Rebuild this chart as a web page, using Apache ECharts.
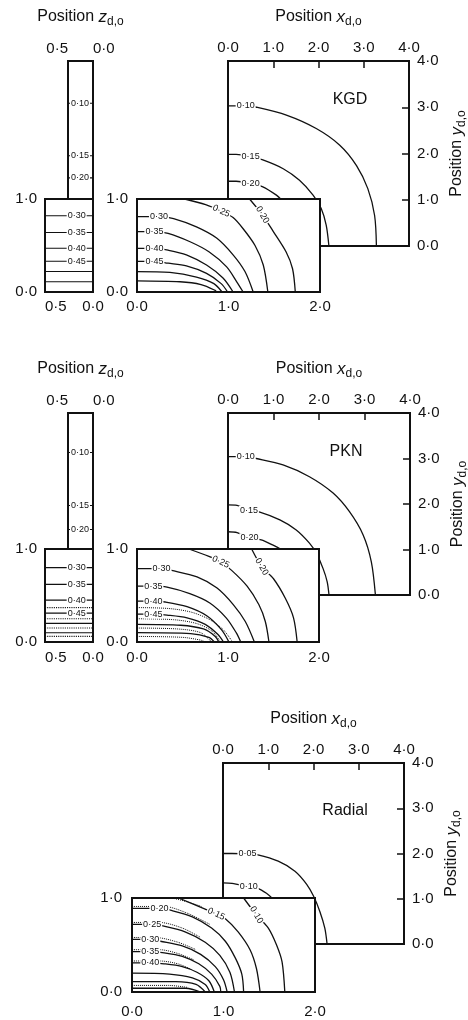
<!DOCTYPE html>
<html><head><meta charset="utf-8">
<script src="https://cdn.jsdelivr.net/npm/echarts@6/dist/echarts.min.js"></script>
<style>html,body{margin:0;padding:0;background:#fff}#c{width:468px;height:1020px}</style>
</head><body><div id="c"></div>
<script>
// ---------- tick labels ----------
const bigTickLabels = ['0·0','1·0','2·0','3·0','4·0'];
const insetXTickLabels = ['0·0','1·0','2·0'];
const unitTickLabels = ['0·0','1·0'];
const zTickLabels = ['0·0','0·5'];
const panelNames = ['KGD','PKN','Radial'];

// ---------- KGD (panel 1) ----------
const kgdBig10 = [[0,3.03],[0.39,3.03],[0.63,3.0],[1.29,2.83],[1.95,2.54],[2.47,2.18],[2.84,1.74],[3.09,1.24],[3.24,0.66],[3.28,0]];
const kgdBig15 = [[0,1.98],[0.18,1.98],[0.5,1.93],[0.77,1.86],[1.22,1.67],[1.58,1.42],[1.88,1.10],[2.06,0.81],[2.17,0.45],[2.23,0]];
const kgdBig20 = [[0,1.40],[0.18,1.40],[0.5,1.35],[0.77,1.28],[1.07,1.10],[1.18,1.0]];
const kgdIn20 = [[1.23,1.0],[1.37,0.83],[1.49,0.65],[1.63,0.43],[1.70,0.25],[1.73,0]];
const kgdIn25 = [[0.52,1.0],[0.75,0.94],[0.92,0.87],[1.05,0.80],[1.16,0.68],[1.29,0.50],[1.38,0.29],[1.43,0]];
const kgdIn30 = [[0,0.81],[0.24,0.81],[0.40,0.79],[0.65,0.70],[0.87,0.58],[1.05,0.40],[1.18,0.22],[1.27,0]];
const kgdIn35 = [[0,0.65],[0.19,0.65],[0.34,0.63],[0.58,0.54],[0.79,0.43],[0.98,0.27],[1.09,0.11],[1.16,0]];
const kgdIn40 = [[0,0.47],[0.19,0.47],[0.34,0.45],[0.54,0.40],[0.76,0.29],[0.94,0.15],[1.05,0]];
const kgdIn45 = [[0,0.33],[0.19,0.33],[0.34,0.31],[0.54,0.28],[0.76,0.20],[0.92,0.09],[0.99,0]];
const kgdIn50 = [[0,0.22],[0.36,0.21],[0.65,0.16],[0.84,0.09],[0.93,0]];
const kgdIn55 = [[0,0.12],[0.47,0.11],[0.70,0.08],[0.85,0.02],[0.87,0]];
const kgdZNarrowY = [3.08,1.94,1.46];
const kgdZNarrowLabels = ['0·10','0·15','0·20'];
const kgdZWideY = [0.82,0.64,0.47,0.33,0.22,0.11];
const kgdZWideLabels = ['0·30','0·35','0·40','0·45','',''];

// ---------- PKN (panel 2) ----------
const pknBig10 = [[0,3.04],[0.39,3.04],[0.62,3.0],[1.21,2.86],[1.79,2.6],[2.31,2.24],[2.67,1.83],[2.97,1.32],[3.15,0.73],[3.24,0]];
const pknBig15 = [[0,1.98],[0.2,1.97],[0.46,1.86],[0.70,1.82],[1.14,1.65],[1.50,1.43],[1.79,1.14],[1.94,0.92],[2.09,0.58],[2.18,0.29],[2.22,0]];
const pknBig20 = [[0,1.39],[0.2,1.37],[0.47,1.26],[0.73,1.21],[0.98,1.10],[1.17,1.0]];
const pknIn20 = [[1.26,1.0],[1.37,0.81],[1.50,0.68],[1.63,0.47],[1.72,0.26],[1.76,0]];
const pknIn25 = [[0.57,1.0],[0.79,0.92],[0.92,0.86],[1.04,0.77],[1.21,0.60],[1.34,0.40],[1.41,0.22],[1.45,0]];
const pknIn30 = [[0,0.79],[0.27,0.79],[0.38,0.77],[0.66,0.70],[0.88,0.58],[1.06,0.40],[1.19,0.22],[1.29,0]];
const pknIn35 = [[0,0.60],[0.18,0.60],[0.33,0.59],[0.58,0.52],[0.80,0.42],[0.98,0.26],[1.09,0.10],[1.14,0]];
const pknIn40 = [[0,0.44],[0.18,0.44],[0.31,0.43],[0.55,0.38],[0.77,0.28],[0.93,0.13],[1.01,0]];
const pknIn45 = [[0,0.30],[0.18,0.30],[0.33,0.29],[0.55,0.26],[0.75,0.19],[0.89,0.08],[0.95,0]];
const pknIn50 = [[0,0.19],[0.48,0.18],[0.73,0.14],[0.86,0.06],[0.90,0]];
const pknIn55 = [[0,0.10],[0.59,0.09],[0.79,0.05],[0.85,0]];
const pknDot1 = [[0,0.37],[0.35,0.36],[0.60,0.32],[0.80,0.24],[0.95,0.13],[1.05,0]];
const pknDot2 = [[0,0.25],[0.40,0.24],[0.65,0.20],[0.82,0.12],[0.92,0]];
const pknDot3 = [[0,0.15],[0.45,0.14],[0.70,0.10],[0.82,0]];
const pknDot4 = [[0,0.06],[0.50,0.05],[0.70,0.02],[0.75,0]];
const pknZNarrowY = [3.13,1.96,1.43];
const pknZNarrowLabels = ['0·10','0·15','0·20'];
const pknZWideY = [0.80,0.62,0.45,0.31,0.20,0.10];
const pknZWideLabels = ['0·30','0·35','0·40','0·45','',''];
const pknZWideDotY = [0.37,0.25,0.15,0.06];

// ---------- Radial (panel 3) ----------
const radBig05 = [[0,2.0],[0.2,2.0],[0.54,1.99],[0.77,1.97],[1.22,1.83],[1.59,1.61],[1.85,1.32],[2.0,1.06],[2.14,0.72],[2.25,0.35],[2.30,0]];
const radBig10 = [[0,1.35],[0.2,1.34],[0.57,1.26],[0.77,1.23],[0.96,1.12],[1.10,1.0]];
const radIn10 = [[1.22,1.0],[1.36,0.82],[1.49,0.68],[1.58,0.50],[1.64,0.32],[1.67,0]];
const radIn15 = [[0.51,1.0],[0.78,0.89],[0.92,0.83],[1.02,0.78],[1.16,0.64],[1.29,0.45],[1.36,0.25],[1.40,0]];
const radIn20 = [[0,0.89],[0.30,0.89],[0.42,0.87],[0.66,0.80],[0.87,0.68],[1.02,0.54],[1.13,0.36],[1.20,0.19],[1.22,0]];
const radIn25 = [[0,0.72],[0.22,0.72],[0.35,0.70],[0.58,0.64],[0.80,0.53],[0.96,0.39],[1.07,0.21],[1.12,0]];
const radIn30 = [[0,0.56],[0.20,0.56],[0.31,0.54],[0.55,0.49],[0.75,0.40],[0.91,0.27],[1.00,0.13],[1.04,0]];
const radIn35 = [[0,0.43],[0.20,0.43],[0.33,0.42],[0.55,0.38],[0.73,0.30],[0.87,0.19],[0.96,0.06],[0.97,0]];
const radIn40 = [[0,0.31],[0.20,0.31],[0.35,0.30],[0.55,0.27],[0.71,0.21],[0.84,0.12],[0.90,0]];
const radIn45 = [[0,0.20],[0.41,0.19],[0.66,0.15],[0.80,0.08],[0.85,0]];
const radIn50 = [[0,0.11],[0.48,0.11],[0.70,0.08],[0.80,0]];
const radIn55 = [[0,0.04],[0.59,0.04],[0.75,0]];
const radDot15 = [[0.44,1.0],[0.60,0.96],[0.76,0.91]];
const radDot20 = [[0,0.91],[0.35,0.91],[0.60,0.84],[0.85,0.72]];
const radDot25 = [[0,0.74],[0.30,0.74],[0.55,0.68],[0.75,0.58]];
const radDot30 = [[0,0.58],[0.25,0.58],[0.50,0.53],[0.70,0.45]];
const radDot35 = [[0,0.45],[0.30,0.45],[0.50,0.41],[0.68,0.34]];
const radDot40 = [[0,0.33],[0.30,0.33],[0.50,0.30],[0.65,0.24]];
const radDotLow = [[0,0.07],[0.40,0.07],[0.60,0.05]];

// z positions of the horizontal z-column lines (left edge, label, right edge)
const zNarrowZ = [0.5,0.26,0];
const zWideZ = [0.5,0.17,0];

// ---------- build ----------
const FONT = '"Liberation Sans", Arial, Helvetica, sans-serif';
const INK = '#111';

const gridDefs = [
  {left:228, top:61,  width:181, height:185, z:0}, // 0 KGD big
  {left:137, top:199, width:183, height:93,  z:5}, // 1 KGD inset
  {left:68,  top:61,  width:25,  height:138, z:3}, // 2 KGD z narrow
  {left:45,  top:199, width:48,  height:93,  z:5}, // 3 KGD z wide
  {left:228, top:413, width:182, height:182, z:0}, // 4 PKN big
  {left:137, top:549, width:182, height:93,  z:5}, // 5 PKN inset
  {left:68,  top:413, width:25,  height:136, z:3}, // 6 PKN z narrow
  {left:45,  top:549, width:48,  height:93,  z:5}, // 7 PKN z wide
  {left:223, top:763, width:181, height:181, z:0}, // 8 Radial big
  {left:132, top:898, width:183, height:94,  z:5}  // 9 Radial inset
];
const grids = gridDefs.map(g => Object.assign({show:true, backgroundColor:'#fff', borderColor:INK, borderWidth:2, containLabel:false, outerBoundsMode:'none'}, g));

function fmt(labels, step){ return v => { const i = Math.round(v/step); return labels[i] !== undefined ? labels[i] : ''; }; }
const labelStyle = {show:true, color:INK, fontSize:15, fontFamily:FONT};
const nameStyle = {color:INK, fontSize:16, fontFamily:FONT, lineHeight:22,
  rich:{ i:{fontStyle:'italic', fontSize:17, fontFamily:FONT, color:INK, lineHeight:22},
         s:{fontSize:12, fontFamily:FONT, color:INK, lineHeight:12, verticalAlign:'bottom'} }};

function ax(gi, z, o){ return Object.assign({gridIndex:gi, type:'value', z:z, axisLine:{show:false, onZero:false}, axisTick:{show:false}, splitLine:{show:false}, axisLabel:{show:false}}, o); }

const xAxes = [], yAxes = [];
function bigAxes(gi){
  const tick = {show:true, inside:true, length:7, lineStyle:{color:INK, width:1.5}};
  xAxes[gi] = ax(gi,1,{position:'top', min:0, max:4, interval:1, axisTick:tick,
    axisLabel:Object.assign({formatter:fmt(bigTickLabels,1), margin:6}, labelStyle),
    name:'Position {i|x}{s|d,o}', nameLocation:'middle', nameGap:33, nameTextStyle:nameStyle});
  yAxes[gi] = ax(gi,1,{position:'right', min:0, max:4, interval:1, axisTick:tick,
    axisLabel:Object.assign({formatter:fmt(bigTickLabels,1), margin:8}, labelStyle),
    name:'Position {i|y}{s|d,o}', nameLocation:'middle', nameGap:37, nameRotate:90, nameTextStyle:nameStyle});
}
function insetAxes(gi, xm, ym){
  xAxes[gi] = ax(gi,6,{position:'bottom', min:0, max:2, interval:1,
    axisLabel:Object.assign({formatter:fmt(insetXTickLabels,1), margin:xm}, labelStyle)});
  yAxes[gi] = ax(gi,6,{position:'left', min:0, max:1, interval:1,
    axisLabel:Object.assign({formatter:fmt(unitTickLabels,1), margin:ym}, labelStyle)});
}
function zAxes(gn, gw, xm){
  xAxes[gn] = ax(gn,4,{position:'top', min:0, max:0.5, interval:0.5, inverse:true,
    axisLabel:Object.assign({formatter:fmt(zTickLabels,0.5), margin:5, showMinLabel:true, showMaxLabel:true, alignMinLabel:'left', alignMaxLabel:'right'}, labelStyle),
    name:'Position {i|z}{s|d,o}', nameLocation:'middle', nameGap:33, nameTextStyle:nameStyle});
  yAxes[gn] = ax(gn,4,{position:'left', min:1, max:4});
  xAxes[gw] = ax(gw,6,{position:'bottom', min:0, max:0.5, interval:0.5, inverse:true,
    axisLabel:Object.assign({formatter:fmt(zTickLabels,0.5), margin:xm, showMinLabel:true, showMaxLabel:true, alignMaxLabel:'left'}, labelStyle)});
  yAxes[gw] = ax(gw,6,{position:'left', min:0, max:1, interval:1,
    axisLabel:Object.assign({formatter:fmt(unitTickLabels,1), margin:8}, labelStyle)});
}
bigAxes(0); insetAxes(1,7,9); zAxes(2,3,7);
bigAxes(4); insetAxes(5,8,9); zAxes(6,7,8);
bigAxes(8); insetAxes(9,12,10);

const series = [];
function add(gi, pts, o){
  o = o || {};
  const data = pts.map((p,i) => (o.label && i === o.at)
    ? {value:p, label:{show:true, formatter:o.label, rotate:o.rot || 0}} : p);
  series.push({type:'line', xAxisIndex:gi, yAxisIndex:gi, data:data, z:o.z,
    smooth:o.smooth === undefined ? 0.3 : o.smooth, symbol:'circle', symbolSize:0.01, showSymbol:true,
    itemStyle:{color:INK}, lineStyle:{color:INK, width:o.w || 1.3, type:o.dotted ? 'dotted' : 'solid'},
    label:{show:false, position:'inside', fontSize:9, color:INK, backgroundColor:'#fff', padding:[0,1], fontFamily:FONT},
    emphasis:{disabled:true}, silent:true, animation:false});
}
function zLines(gi, zs, ys, labels, z, dotted){
  ys.forEach((y,k) => add(gi, zs.map(zz => [zz,y]), {label:labels ? labels[k] : '', at:1, z:z, smooth:false, dotted:dotted, w:1.1}));
}

// KGD
add(0, kgdBig10, {label:'0·10', at:1, z:2});
add(0, kgdBig15, {label:'0·15', at:2, z:2});
add(0, kgdBig20, {label:'0·20', at:2, z:2});
add(1, kgdIn20, {label:'0·20', at:1, rot:-60, z:7});
add(1, kgdIn25, {label:'0·25', at:2, rot:-25, z:7});
add(1, kgdIn30, {label:'0·30', at:1, z:7});
add(1, kgdIn35, {label:'0·35', at:1, z:7});
add(1, kgdIn40, {label:'0·40', at:1, z:7});
add(1, kgdIn45, {label:'0·45', at:1, z:7});
add(1, kgdIn50, {z:7});
add(1, kgdIn55, {z:7});
zLines(2, zNarrowZ, kgdZNarrowY, kgdZNarrowLabels, 4);
zLines(3, zWideZ, kgdZWideY, kgdZWideLabels, 7);

// PKN
add(4, pknBig10, {label:'0·10', at:1, z:2});
add(4, pknBig15, {label:'0·15', at:2, z:2});
add(4, pknBig20, {label:'0·20', at:2, z:2});
add(5, pknIn20, {label:'0·20', at:1, rot:-60, z:7});
add(5, pknIn25, {label:'0·25', at:2, rot:-25, z:7});
add(5, pknIn30, {label:'0·30', at:1, z:7});
add(5, pknIn35, {label:'0·35', at:1, z:7});
add(5, pknIn40, {label:'0·40', at:1, z:7});
add(5, pknIn45, {label:'0·45', at:1, z:7});
add(5, pknIn50, {z:7});
add(5, pknIn55, {z:7});
[pknDot1, pknDot2, pknDot3, pknDot4].forEach(d => add(5, d, {z:7, dotted:true, w:1}));
zLines(6, zNarrowZ, pknZNarrowY, pknZNarrowLabels, 4);
zLines(7, zWideZ, pknZWideY, pknZWideLabels, 7);
zLines(7, [0.5,0], pknZWideDotY, null, 7, true);

// Radial
add(8, radBig05, {label:'0·05', at:2, z:2});
add(8, radBig10, {label:'0·10', at:2, z:2});
add(9, radIn10, {label:'0·10', at:1, rot:-60, z:7});
add(9, radIn15, {label:'0·15', at:2, rot:-25, z:7});
add(9, radIn20, {label:'0·20', at:1, z:7});
add(9, radIn25, {label:'0·25', at:1, z:7});
add(9, radIn30, {label:'0·30', at:1, z:7});
add(9, radIn35, {label:'0·35', at:1, z:7});
add(9, radIn40, {label:'0·40', at:1, z:7});
add(9, radIn45, {z:7});
add(9, radIn50, {z:7});
add(9, radIn55, {z:7});
[radDot15, radDot20, radDot25, radDot30, radDot35, radDot40, radDotLow].forEach(d => add(9, d, {z:6, dotted:true, w:1}));

const namePos = [[350,100],[346,452],[345,811]];
const graphic = panelNames.map((t,k) => ({type:'text', x:namePos[k][0], y:namePos[k][1], z:3,
  style:{text:t, fill:INK, font:'16px ' + FONT, align:'center', verticalAlign:'middle'}}));

const chart = echarts.init(document.getElementById('c'), null, {renderer:'canvas'});
chart.setOption({animation:false, backgroundColor:'#fff', grid:grids, xAxis:xAxes, yAxis:yAxes, series:series, graphic:graphic});
</script></body></html>
